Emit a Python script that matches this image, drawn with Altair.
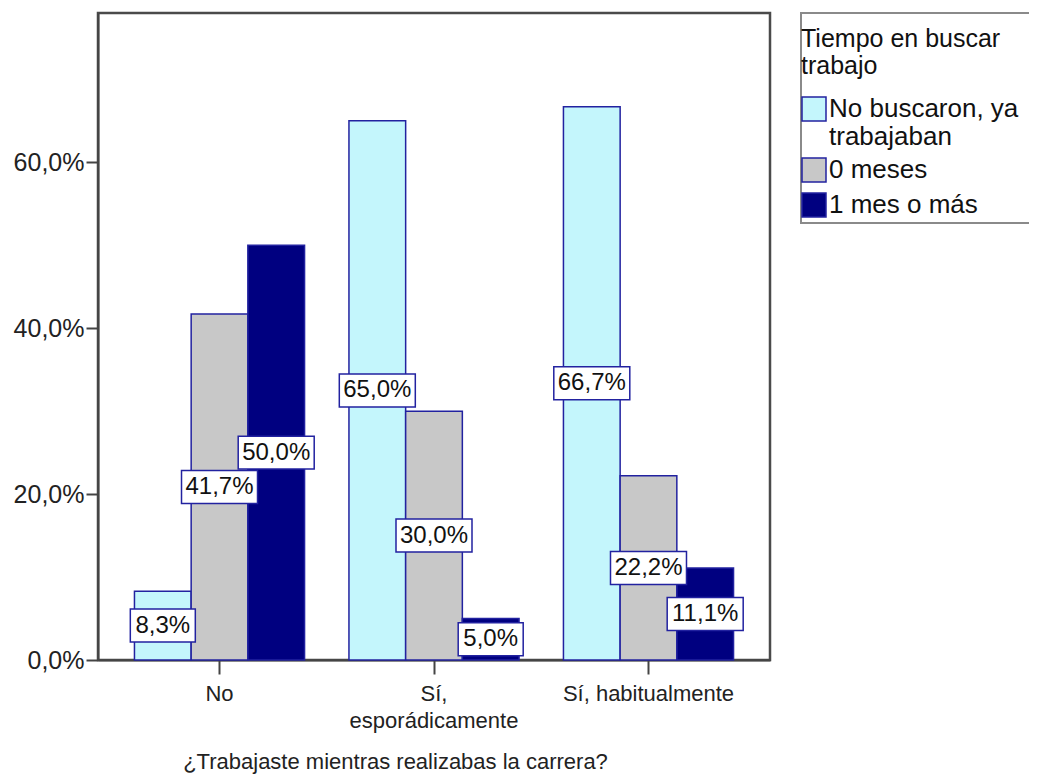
import altair as alt
import pandas as pd

categories = ["No", "Sí, esporádicamente", "Sí, habitualmente"]
series = ["No buscaron, ya trabajaban", "0 meses", "1 mes o más"]
no_buscaron = [8.3, 65.0, 66.7]
cero_meses = [41.7, 30.0, 22.2]
un_mes_o_mas = [50.0, 5.0, 11.1]
colors = ["#C4F6FC", "#C8C8C8", "#000080"]
y_ticks = [0, 20, 40, 60]

rows = []
for s, vals in zip(series, [no_buscaron, cero_meses, un_mes_o_mas]):
    for c, v in zip(categories, vals):
        rows.append({"cat": c, "serie": s, "pct": v,
                     "label": f"{v:.1f}".replace(".", ",") + "%"})
df = pd.DataFrame(rows)

FONT = "Liberation Sans"
NAVY = "#2222a0"

x_enc = alt.X("cat:N", sort=categories,
              scale=alt.Scale(paddingInner=0.207, paddingOuter=0.17),
              axis=alt.Axis(title="¿Trabajaste mientras realizabas la carrera?",
                            labelAngle=0, labelFont=FONT, labelFontSize=22,
                            labelColor="#222", labelLineHeight=27,
                            labelExpr="datum.value == 'Sí, esporádicamente' ? ['Sí,', 'esporádicamente'] : datum.label",
                            tickSize=14, tickWidth=2, tickColor="#444",
                            domainColor="#444", domainWidth=2, labelPadding=9,
                            titleFont=FONT, titleFontSize=22, titleFontWeight="normal",
                            titleColor="#222", titleX=297, titleY=101,
                            titleBaseline="middle", titleAlign="center"))
xo_enc = alt.XOffset("serie:N", sort=series)
y_enc = alt.Y("pct:Q", scale=alt.Scale(domain=[0, 78], nice=False),
              axis=alt.Axis(values=y_ticks, title=None, grid=False,
                            labelExpr="replace(format(datum.value, '.1f'), '.', ',') + '%'",
                            labelFont=FONT, labelFontSize=25, labelColor="#222",
                            tickSize=12, tickWidth=2, tickColor="#444",
                            domainColor="#444", domainWidth=2, labelPadding=2))

legend = alt.Legend(title=["\u00a0Tiempo en buscar", "\u00a0trabajo"], orient="none",
                    legendX=703, legendY=14, padding=0,
                    titleFont=FONT, titleFontSize=25, titleFontWeight="normal",
                    titleColor="#111", titleLineHeight=27, titlePadding=17,
                    titleLimit=400,
                    labelFont=FONT, labelFontSize=26, labelColor="#111",
                    labelOffset=2, labelLimit=400,
                    labelExpr="datum.label == 'No buscaron, ya trabajaban' ? ['No buscaron, ya', 'trabajaban'] : datum.label",
                    symbolType="square", symbolSize=576,
                    symbolStrokeColor=NAVY, symbolStrokeWidth=1.5, rowPadding=5)

bars = alt.Chart(df).mark_bar(stroke=NAVY, strokeWidth=1.5).encode(
    x=x_enc, xOffset=xo_enc, y=y_enc,
    color=alt.Color("serie:N", sort=series,
                    scale=alt.Scale(domain=series, range=colors), legend=legend))

base_lbl = alt.Chart(df).transform_calculate(mid="datum.pct / 2")

box5 = base_lbl.transform_filter("length(datum.label) == 5").mark_point(
    shape="M-1,-0.434L1,-0.434L1,0.434L-1,0.434Z", size=5776, filled=True,
    fill="white", stroke=NAVY, strokeWidth=1.5, opacity=1).encode(
    x=alt.X("cat:N", sort=categories), xOffset=xo_enc, y=alt.Y("mid:Q"))

box4 = base_lbl.transform_filter("length(datum.label) == 4").mark_point(
    shape="M-1,-0.508L1,-0.508L1,0.508L-1,0.508Z", size=4225, filled=True,
    fill="white", stroke=NAVY, strokeWidth=1.5, opacity=1).encode(
    x=alt.X("cat:N", sort=categories), xOffset=xo_enc, y=alt.Y("mid:Q"))

text = base_lbl.mark_text(font=FONT, fontSize=24, color="#111",
                          align="center", baseline="middle").encode(
    x=alt.X("cat:N", sort=categories), xOffset=xo_enc, y=alt.Y("mid:Q"),
    text="label:N")

frame = alt.Chart(pd.DataFrame({"k": [0]})).mark_rect(
    fill="white", fillOpacity=0, stroke="#8a8a8a", strokeWidth=2).encode(
    x=alt.value(703), x2=alt.value(1000), y=alt.value(0), y2=alt.value(210))

chart = alt.layer(frame, bars, box5, box4, text).properties(
    width=672, height=647,
    padding={"left": 90, "top": 5, "right": 259, "bottom": 115},
    autosize=alt.AutoSizeParams(type="none"),
).configure_view(stroke="#4a4a4a", strokeWidth=2.5)

chart.save("out.html", embed_options={"renderer": "svg", "actions": False})
